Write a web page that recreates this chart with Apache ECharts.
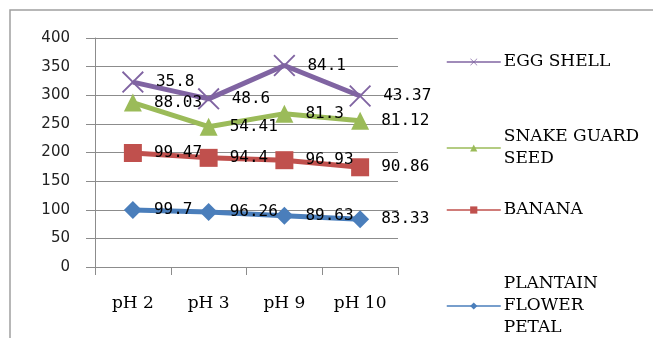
<!DOCTYPE html>
<html>
<head>
<meta charset="utf-8">
<script src="https://cdn.jsdelivr.net/npm/echarts@6/dist/echarts.min.js"></script>
<style>
  html, body { margin: 0; padding: 0; background: #fff; }
  #chart { width: 653px; height: 338px; }
</style>
</head>
<body>
<div id="chart"></div>
<script>
// pH categories
const categories = ['pH 2', 'pH 3', 'pH 9', 'pH 10'];
// values per adsorbent (plotted stacked, labels show own value)
const plantain = [99.7, 96.26, 89.63, 83.33];
const banana = [99.47, 94.4, 96.93, 90.86];
const snakeGuard = [88.03, 54.41, 81.3, 81.12];
const eggShell = [35.8, 48.6, 84.1, 43.37];
const yTicks = [0, 400, 50];

// thin "x" marker
const crossPath = 'path://M0,0.6L0.6,0L5,4.4L9.4,0L10,0.6L5.6,5L10,9.4L9.4,10L5,5.6L0.6,10L0,9.4L4.4,5Z';

const labelStyle = {
  show: true,
  position: 'right',
  distance: 12,
  color: '#000',
  fontFamily: 'DejaVu Sans Mono',
  fontSize: 16,
  formatter: p => String(p.value)
};

function mkSeries(name, data, color, symbol, size) {
  return {
    name: name,
    type: 'line',
    stack: 'total',
    data: data,
    symbol: symbol,
    symbolSize: size,
    lineStyle: { color: color, width: 5 },
    itemStyle: { color: color },
    label: labelStyle,
    emphasis: { disabled: true },
    z: 3
  };
}

const chart = echarts.init(document.getElementById('chart'));

const legendBase = {
  orient: 'vertical',
  left: 446,
  padding: 0,
  itemWidth: 54,
  itemHeight: 9,
  itemGap: 4,
  lineStyle: { width: 1.5 },
  textStyle: { fontFamily: 'DejaVu Serif', fontSize: 17, color: '#000', lineHeight: 22, padding: [0, 0, 0, -2] }
};

chart.setOption({
  animation: false,
  backgroundColor: '#fff',
  graphic: [{
    type: 'rect',
    shape: { x: 10, y: 10, width: 700, height: 400 },
    style: { fill: 'none', stroke: '#a0a0a0', lineWidth: 1.5 },
    silent: true
  }],
  legend: [
    Object.assign({}, legendBase, { top: 51, data: ['EGG SHELL'] }),
    Object.assign({}, legendBase, { top: 126, data: ['SNAKE GUARD\nSEED'] }),
    Object.assign({}, legendBase, { top: 199, data: ['BANANA'] }),
    Object.assign({}, legendBase, { top: 273, data: ['PLANTAIN\nFLOWER\nPETAL'] })
  ],
  grid: { left: 95, right: 255, top: 38, bottom: 71 },
  xAxis: {
    type: 'category',
    data: categories,
    boundaryGap: true,
    axisLine: { lineStyle: { color: '#8c8c8c', width: 1 } },
    axisTick: { show: true, length: 8, lineStyle: { color: '#8c8c8c' } },
    axisLabel: { color: '#000', fontFamily: 'DejaVu Serif', fontSize: 17, margin: 28 }
  },
  yAxis: {
    type: 'value',
    min: yTicks[0],
    max: yTicks[1],
    interval: yTicks[2],
    axisLine: { show: true, lineStyle: { color: '#8c8c8c', width: 1 } },
    axisTick: { show: true, length: 9, inside: false, lineStyle: { color: '#8c8c8c' } },
    splitLine: { lineStyle: { color: '#8c8c8c', width: 1 } },
    axisLabel: { color: '#222', fontFamily: 'DejaVu Sans', fontSize: 15, margin: 25 }
  },
  series: [
    mkSeries('PLANTAIN\nFLOWER\nPETAL', plantain, '#4a7ebb', 'diamond', 18),
    mkSeries('BANANA', banana, '#c0504d', 'rect', 18),
    mkSeries('SNAKE GUARD\nSEED', snakeGuard, '#9bbb59', 'triangle', 18),
    mkSeries('EGG SHELL', eggShell, '#8064a2', crossPath, 22)
  ]
});
</script>
</body>
</html>
